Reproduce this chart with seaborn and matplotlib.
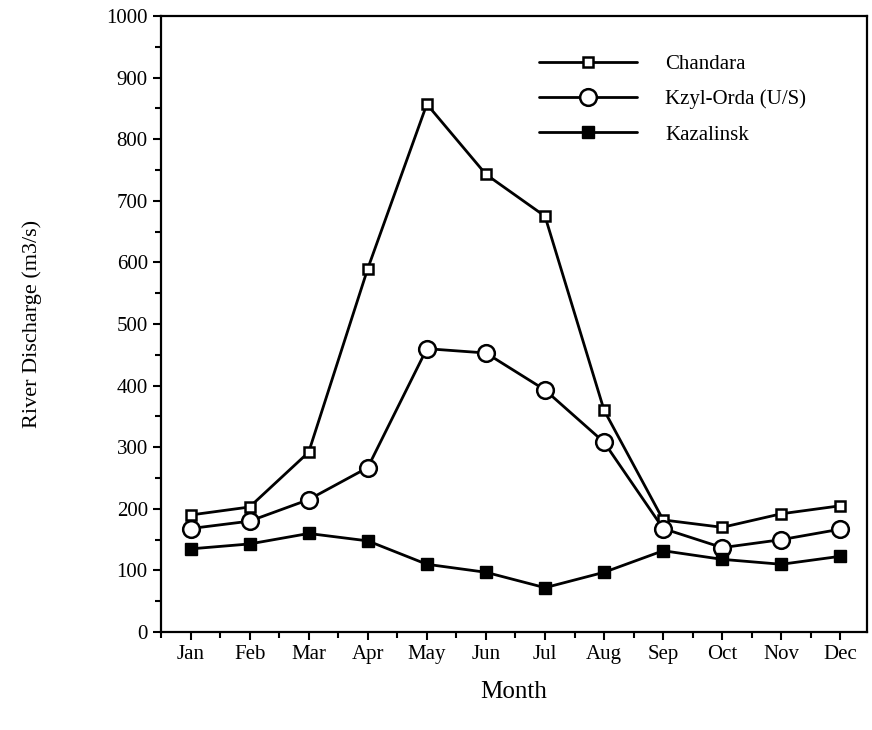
import matplotlib
matplotlib.use("Agg")
import matplotlib.pyplot as plt
import seaborn as sns
import pandas as pd
from matplotlib.ticker import MultipleLocator

months = ["Jan", "Feb", "Mar", "Apr", "May", "Jun", "Jul", "Aug", "Sep", "Oct", "Nov", "Dec"]
chardara = [190, 203, 292, 590, 857, 743, 675, 360, 182, 170, 192, 205]
kzyl_orda = [168, 180, 215, 267, 460, 453, 393, 308, 168, 137, 150, 167]
kazalinsk = [135, 143, 160, 148, 110, 97, 72, 97, 132, 118, 110, 123]
series_names = ["Chandara", "Kzyl-Orda (U/S)", "Kazalinsk"]

sns.set_theme(style="ticks")
plt.rcParams["font.family"] = ["Liberation Serif", "DejaVu Serif"]
plt.rcParams["text.color"] = "black"
plt.rcParams["axes.labelcolor"] = "black"

fig = plt.figure(figsize=(8.72, 7.30), dpi=100)
ax = fig.add_axes([0.1846, 0.1342, 0.8097, 0.8438])

x = list(range(len(months)))
styles = [
    dict(marker="s", markersize=7, markerfacecolor="white", markeredgewidth=1.8),
    dict(marker="o", markersize=12, markerfacecolor="white", markeredgewidth=1.8),
    dict(marker="s", markersize=8, markerfacecolor="black", markeredgewidth=1.0),
]
for name, vals, st in zip(series_names, [chardara, kzyl_orda, kazalinsk], styles):
    df = pd.DataFrame({"x": x, "y": vals})
    sns.lineplot(data=df, x="x", y="y", ax=ax, color="black", linewidth=2,
                 markeredgecolor="black", label=name, **st)

ax.set_xlim(-0.5, 11.45)
ax.set_ylim(0, 1000)
ax.set_xticks(x)
ax.set_xticklabels(months)
ax.xaxis.set_minor_locator(MultipleLocator(0.5))
ax.yaxis.set_major_locator(MultipleLocator(100))
ax.yaxis.set_minor_locator(MultipleLocator(50))
ax.tick_params(axis="both", which="major", direction="out", length=6, width=1.5,
               labelsize=15, colors="black")
ax.tick_params(axis="both", which="minor", direction="out", length=4, width=1.5,
               colors="black")
for s in ax.spines.values():
    s.set_linewidth(1.6)
    s.set_color("black")

ax.set_xlabel("Month", fontsize=18, labelpad=12)
ax.set_ylabel("River Discharge (m3/s)", fontsize=16, labelpad=46)

leg = ax.legend(loc="upper right", bbox_to_anchor=(0.94, 0.968), frameon=False,
                fontsize=15, handlelength=4.7, handletextpad=1.35, labelspacing=0.75)
for t in leg.get_texts():
    t.set_color("black")

fig.savefig("out.png", dpi=100)
